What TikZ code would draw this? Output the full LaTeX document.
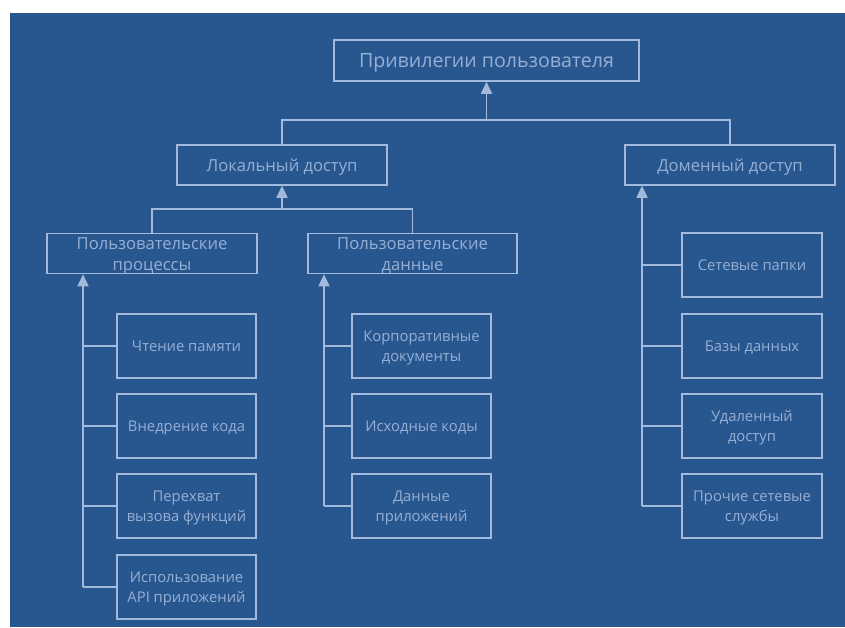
\documentclass[tikz,border=0pt]{standalone}
\usepackage{fontspec}
\setmainfont{Open Sans}
\usetikzlibrary{arrows.meta}
\definecolor{bgblue}{HTML}{28578F}
\definecolor{linec}{HTML}{A3BADC}
\definecolor{textc}{HTML}{96AFD5}
% two-line label: #1 = offset of the second baseline below the node centre
\newcommand{\twolbl}[3]{\raisebox{-#1}[0pt][0pt]{\begin{tabular}[b]{@{}c@{}}#2\\#3\end{tabular}}}
\tikzset{
  box/.style={draw=linec, line width=1.5pt, rectangle, inner sep=0pt, align=center, text=textc, text depth=0pt},
  headbox/.style={box, minimum height=40pt, font=\fontsize{16.6}{21}\selectfont},
  leafbox/.style={box, minimum width=139pt, minimum height=64pt, font=\fontsize{14.8}{19.5}\selectfont},
  conn/.style={draw=linec, line width=1.5pt},
  tipconn/.style={conn, -{Triangle[width=11pt,length=12pt]}},
}
\begin{document}
\begin{tikzpicture}[x=1pt, y=-1pt]
\useasboundingbox (0,0) rectangle (845,627);
\fill[bgblue] (10,13) rectangle (845,627);

\node[headbox, minimum width=305pt, minimum height=41pt, font=\fontsize{19.6}{22}\selectfont] (top) at (486.5,60.5) {Привилегии пользователя};
\node[headbox, minimum width=210pt] (local) at (282,165) {Локальный доступ};
\node[headbox, minimum width=210pt] (domain) at (730,165) {Доменный доступ};
\node[headbox, minimum width=210pt] (proc) at (152,253.5) {\twolbl{16.5pt}{Пользовательские}{процессы}};
\node[headbox, minimum width=209pt] (data) at (412.5,253.5) {\twolbl{16.5pt}{Пользовательские}{данные}};

\node[leafbox] (p1) at (186.5,346) {Чтение памяти};
\node[leafbox] (p2) at (186.5,426) {Внедрение кода};
\node[leafbox] (p3) at (186.5,506) {\twolbl{15pt}{Перехват}{вызова функций}};
\node[leafbox] (p4) at (186.5,587) {\twolbl{15pt}{Использование}{API приложений}};

\node[leafbox] (d1) at (421.5,346) {\twolbl{15pt}{Корпоративные}{документы}};
\node[leafbox] (d2) at (421.5,426) {Исходные коды};
\node[leafbox] (d3) at (421.5,506) {\twolbl{15pt}{Данные}{приложений}};

\node[leafbox, minimum width=140pt] (n1) at (752,265) {Сетевые папки};
\node[leafbox, minimum width=140pt] (n2) at (752,346) {Базы данных};
\node[leafbox, minimum width=140pt] (n3) at (752,426) {\twolbl{15pt}{Удаленный}{доступ}};
\node[leafbox, minimum width=140pt] (n4) at (752,506) {\twolbl{15pt}{Прочие сетевые}{службы}};

% top level junction
\coordinate (tj) at (486.5,120);
\draw[conn] (local.north) -- (local.north |- tj) -- (domain.north |- tj) -- (domain.north);
\draw[tipconn] (tj) -- (top.south);

% local junction
\coordinate (lj) at (282,209);
\draw[conn] (proc.north) -- (proc.north |- lj) -- (data.north |- lj) -- (data.north);
\draw[tipconn] (lj) -- (local.south);

% process spine
\coordinate (ps) at (83,587);
\draw[tipconn] (ps) -- (ps |- proc.south);
\foreach \n in {p1,p2,p3,p4} \draw[conn] (\n.west) -- (\n.west -| ps);

% data spine
\coordinate (ds) at (324,506);
\draw[tipconn] (ds) -- (ds |- data.south);
\foreach \n in {d1,d2,d3} \draw[conn] (\n.west) -- (\n.west -| ds);

% domain spine
\coordinate (ns) at (642,506);
\draw[tipconn] (ns) -- (ns |- domain.south);
\foreach \n in {n1,n2,n3,n4} \draw[conn] (\n.west) -- (\n.west -| ns);
\end{tikzpicture}
\end{document}
